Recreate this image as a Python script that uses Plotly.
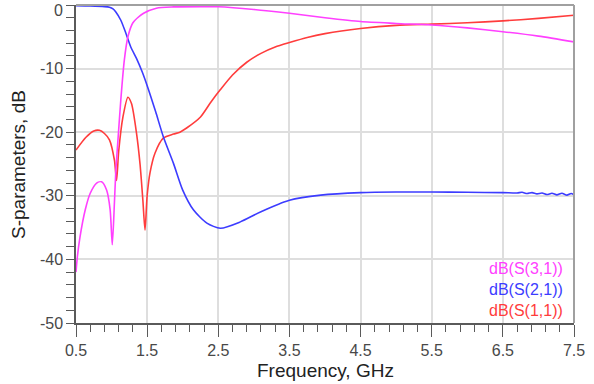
import plotly.graph_objects as go

# ---- data ----
freq_s31 = [0.50, 0.52, 0.556, 0.63, 0.70, 0.79, 0.86, 0.93, 0.98, 1.01, 1.04, 1.06, 1.09,
            1.13, 1.18, 1.23, 1.30, 1.45, 1.63, 1.87, 2.25, 2.50, 3.00, 3.50, 4.00, 4.50,
            5.00, 5.50, 6.00, 6.50, 7.00, 7.50]
s31_db = [-42.0, -39.5, -36.5, -32.2, -29.6, -28.0, -27.8, -29.1, -32.2, -37.7, -31.1, -26.0, -21.2,
          -14.9, -8.6, -5.0, -2.8, -1.3, -0.5, -0.3, -0.25, -0.28, -0.7, -1.3, -2.0, -2.6,
          -2.9, -3.15, -3.6, -4.2, -4.9, -5.8]

freq_s21 = [0.50, 0.70, 0.90, 0.97, 1.02, 1.06, 1.13, 1.20, 1.27, 1.35, 1.43, 1.51, 1.62, 1.73,
            1.87, 2.00, 2.15, 2.34, 2.53, 2.81, 3.10, 3.50, 3.94, 4.50, 5.00, 5.50, 6.00, 6.50,
            6.70, 6.77, 6.84, 6.91, 6.98, 7.05, 7.12, 7.19, 7.26, 7.33, 7.40, 7.46, 7.50]
s21_db = [-0.1, -0.15, -0.25, -0.35, -0.6, -1.1, -2.4, -4.4, -6.6, -8.4, -10.5, -13.0, -16.8, -20.8,
          -24.9, -29.1, -32.2, -34.3, -35.1, -34.1, -32.5, -30.7, -29.9, -29.5, -29.4, -29.4, -29.45, -29.5,
          -29.55, -29.45, -29.65, -29.5, -29.7, -29.55, -29.8, -29.6, -29.85, -29.6, -29.9, -29.65, -29.85]

freq_s11 = [0.50, 0.64, 0.75, 0.83, 0.90, 0.97, 1.04, 1.07, 1.10, 1.16, 1.23, 1.28, 1.35, 1.40,
            1.44, 1.47, 1.50, 1.54, 1.61, 1.73, 1.87, 1.96, 2.06, 2.25, 2.40, 2.53, 2.70, 2.90,
            3.10, 3.30, 3.50, 3.75, 4.00, 4.50, 5.00, 5.50, 6.00, 6.50, 7.00, 7.50]
s11_db = [-22.8, -20.8, -19.8, -19.7, -20.2, -21.2, -24.4, -27.6, -23.0, -17.6, -14.5, -15.5, -20.1, -25.0,
          -30.7, -35.4, -30.0, -26.4, -23.3, -20.9, -20.3, -20.0, -19.3, -17.6, -15.2, -13.3, -11.0, -9.0,
          -7.6, -6.6, -5.9, -5.1, -4.5, -3.7, -3.2, -3.0, -2.8, -2.5, -2.1, -1.6]

x_ticks = [0.5, 1.5, 2.5, 3.5, 4.5, 5.5, 6.5, 7.5]
x_tick_labels = ["0.5", "1.5", "2.5", "3.5", "4.5", "5.5", "6.5", "7.5"]
y_ticks = [0, -10, -20, -30, -40, -50]
y_tick_labels = ["", "-10", "-20", "-30", "-40", "-50"]   # "0" drawn separately so it stays in view
y_top_label = "0"

series_names = ["dB(S(3,1))", "dB(S(2,1))", "dB(S(1,1))"]
series_colors = ["#ff40ff", "#3c3cff", "#ff3c3c"]

FONT = "Liberation Sans, Arial, sans-serif"
TICK_COLOR = "#484848"

fig = go.Figure()
for name, fx, fy, col in [
    (series_names[2], freq_s11, s11_db, series_colors[2]),
    (series_names[1], freq_s21, s21_db, series_colors[1]),
    (series_names[0], freq_s31, s31_db, series_colors[0]),
]:
    fig.add_trace(go.Scatter(x=fx, y=fy, mode="lines", name=name,
                             line=dict(color=col, width=1.6, shape="spline", smoothing=0.7),
                             showlegend=False))

axis_common = dict(
    showline=True, linecolor="#5a5a5a", linewidth=1.5,
    ticks="outside", tickcolor="#5a5a5a", tickwidth=1.2,
    showgrid=True, gridcolor="#dedede", gridwidth=1.5,
    zeroline=False, automargin=False, ticklabeloverflow="allow",
    tickfont=dict(family=FONT, size=16, color=TICK_COLOR),
)

fig.update_layout(
    width=594, height=384,
    margin=dict(l=76, r=20, t=5, b=61),
    paper_bgcolor="white", plot_bgcolor="white",
    font=dict(family=FONT),
    xaxis=dict(range=[0.5, 7.5], tickmode="array", tickvals=x_ticks, ticktext=x_tick_labels,
               ticklen=12,
               minor=dict(dtick=0.2, tick0=0.5, ticklen=7, ticks="outside", tickcolor="#5a5a5a",
                          showgrid=False),
               **axis_common),
    yaxis=dict(range=[-50, 0], tickmode="array", tickvals=y_ticks, ticktext=y_tick_labels,
               ticklen=8,
               minor=dict(dtick=2, ticklen=8, ticks="outside", tickcolor="#5a5a5a", showgrid=False),
               **axis_common),
)

# top "0" tick label, nudged just inside the page
fig.add_annotation(text=y_top_label, xref="paper", yref="paper", x=0, y=1,
                   xanchor="right", yanchor="top", xshift=-11, yshift=5, showarrow=False,
                   font=dict(family=FONT, size=16, color=TICK_COLOR))

# axis titles
fig.add_annotation(text="Frequency, GHz", xref="paper", yref="paper", x=0.5, y=-0.148,
                   xanchor="center", yanchor="middle", showarrow=False,
                   font=dict(family=FONT, size=19, color="#222222"))
fig.add_annotation(text="S-parameters, dB", xref="paper", yref="paper", x=-0.1165, y=0.5,
                   xanchor="center", yanchor="middle", showarrow=False, textangle=-90,
                   font=dict(family=FONT, size=19, color="#222222"))

# lighter top/right frame
fig.add_shape(type="line", xref="paper", yref="paper", x0=0, x1=1, y0=1, y1=1,
              line=dict(color="#a0a0a0", width=2))
fig.add_shape(type="line", xref="paper", yref="paper", x0=1, x1=1, y0=0, y1=1,
              line=dict(color="#a0a0a0", width=2))

# legend as a single right-aligned block of coloured text
legend_text = "<br>".join(
    f"<span style='color:{c}'>{n}</span>" for n, c in zip(series_names, series_colors))
fig.add_annotation(text=legend_text, xref="paper", yref="paper", x=0.982, y=0.104,
                   xanchor="right", yanchor="middle", align="right", showarrow=False,
                   font=dict(family=FONT, size=16))

fig.write_html("out.html", config={"displayModeBar": False},
               post_script="document.body.style.margin='0px';")
